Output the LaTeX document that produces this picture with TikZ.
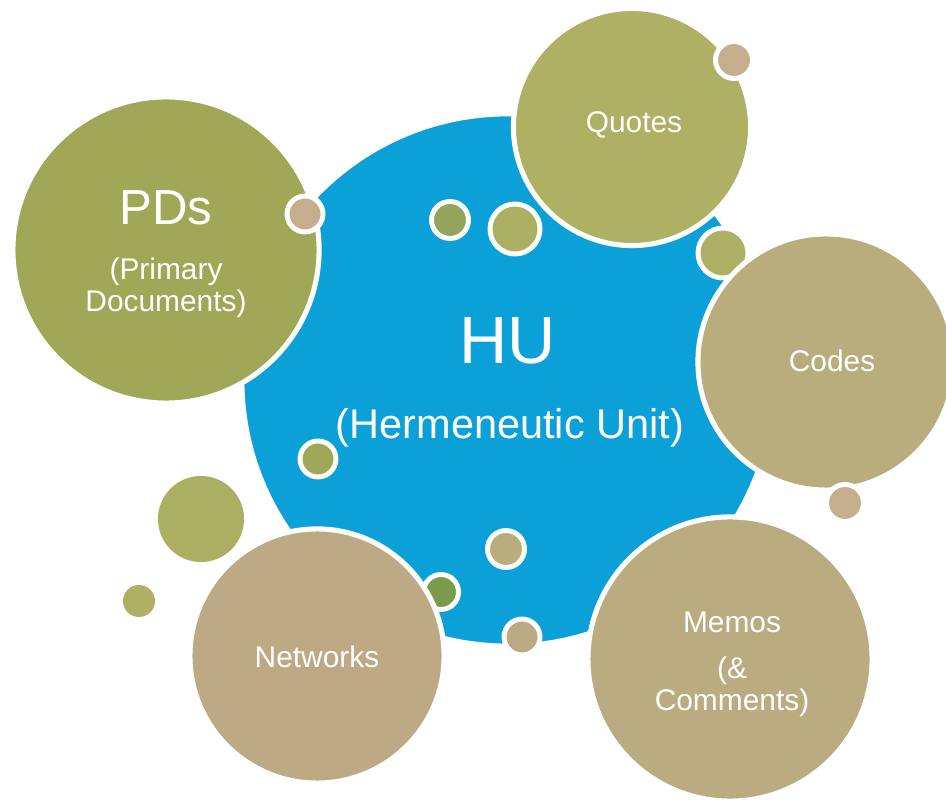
\documentclass[tikz,border=0pt]{standalone}
\usepackage{fontspec}
\setmainfont{Liberation Sans}
\definecolor{hublue}{RGB}{11,160,216}
\definecolor{pdgreen}{RGB}{160,168,88}
\definecolor{quotegreen}{RGB}{174,176,100}
\definecolor{codetan}{RGB}{185,173,125}
\definecolor{memotan}{RGB}{186,172,128}
\definecolor{nettan}{RGB}{189,170,132}
\definecolor{dottan}{RGB}{196,174,142}
\definecolor{dotgreen}{RGB}{148,164,90}
\definecolor{darkdot}{RGB}{123,154,76}
\definecolor{lightdot}{RGB}{171,175,98}

\begin{document}
\begin{tikzpicture}[x=0.01cm, y=-0.01cm,
    bubble/.style={circle, draw=white, line width=1.45pt, inner sep=0pt},
    dot/.style={circle, draw=white, line width=1.4pt, inner sep=0pt},
    label/.style={text=white, align=center, inner sep=0pt, font=\fontsize{8.5}{9.1}\selectfont}]

    \useasboundingbox (0,0) rectangle (946,801);

    % Hermeneutic Unit
    \node[bubble, fill=hublue, minimum size=5.32cm] (hu) at (508,380) {};

    % Puntos dentro del HU
    \foreach \x/\y/\r/\c [count=\i] in {450/220/18.5/dotgreen, 515/229/25/lightdot,
        723/253/25/quotegreen, 318/459/18/pdgreen, 506/549/18.5/codetan,
        441/592/17.5/darkdot, 522/637/18/nettan}
        \node[dot, fill=\c, minimum size=2*\r*0.01cm] (d\i) at (\x,\y) {};

    % Burbujas grandes
    \node[bubble, fill=pdgreen, minimum size=3.06cm] (pd) at (166,250) {};
    \node[bubble, fill=quotegreen, minimum size=2.37cm] (quotes) at (632,127) {};
    \node[bubble, fill=codetan, minimum size=2.56cm] (codes) at (826,362) {};
    \node[bubble, fill=memotan, minimum size=2.84cm] (memos) at (730,659) {};
    \node[bubble, fill=nettan, minimum size=2.54cm] (net) at (317,656) {};

    % Puntos sueltos
    \node[circle, fill=lightdot, minimum size=0.86cm, inner sep=0pt] (f1) at (201,519) {};
    \node[circle, fill=quotegreen, minimum size=0.32cm, inner sep=0pt] (f2) at (139,601) {};
    \foreach \x/\y/\r [count=\i] in {734/60/18.5, 305/214/18, 845/503/18.5}
        \node[dot, fill=dottan, minimum size=2*\r*0.01cm] (t\i) at (\x,\y) {};

    % Textos
    \node[label, font=\fontsize{19}{22}\selectfont] (hutitle) at (508,341) {HU};
    \node[label, font=\fontsize{11.8}{14}\selectfont] (husub) at (510,428) {(Hermeneutic Unit)};
    \node[label, font=\fontsize{14}{16}\selectfont] (pdtitle) at (166,208) {PDs};
    \node[label] (pdsub) at (166,288) {(Primary\\Documents)};
    \node[label] (quotestext) at (634,125) {Quotes};
    \node[label] (codestext) at (832,361) {Codes};
    \node[label] (nettext) at (317,657) {Networks};
    \node[label] (memostext) at (732,664) {Memos\\[4pt](\&\\Comments)};
\end{tikzpicture}
\end{document}
